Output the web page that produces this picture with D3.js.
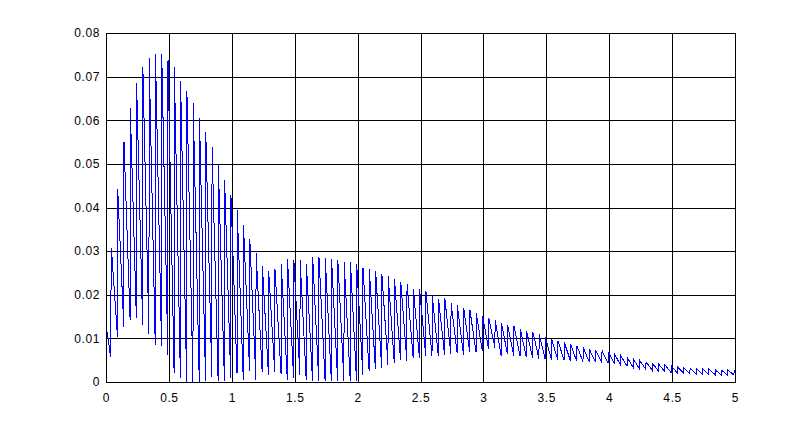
<!DOCTYPE html>
<html>
<head>
<meta charset="utf-8">
<script src="https://cdn.jsdelivr.net/npm/d3@7"></script>
<style>
  html, body { margin: 0; padding: 0; background: #fff; }
  svg { display: block; }
  .tick text { font-family: "Liberation Sans", Arial, sans-serif; font-size: 12px; letter-spacing: 0.6px; fill: #000; }
</style>
</head>
<body>
<svg id="chart" width="812" height="430"></svg>
<script>
// ---- data ----
const xTicks = [0, 0.5, 1, 1.5, 2, 2.5, 3, 3.5, 4, 4.5, 5];
const xTickLabels = ["0", "0.5", "1", "1.5", "2", "2.5", "3", "3.5", "4", "4.5", "5"];
const yTicks = [0, 0.01, 0.02, 0.03, 0.04, 0.05, 0.06, 0.07, 0.08];
const yTickLabels = ["0", "0.01", "0.02", "0.03", "0.04", "0.05", "0.06", "0.07", "0.08"];

// initial transient before first oscillation peak
const startTimes = [0, 0.01, 0.025, 0.035];
const startValues = [0.0130, 0.0112, 0.0083, 0.0058];

// oscillation period (20 Hz) and time offset of each cycle's peak
const cyclePeriod = 0.05;
const peakOffset = -0.007;
const troughOffset = -0.0085;

// peak value of each cycle (100 cycles)
const peakValues = [
  0.0306,0.0443,0.0551,0.0628,0.0686,0.0722,0.0743,0.0752,0.0751,0.0737,
  0.0722,0.0690,0.0668,0.0640,0.0605,0.0572,0.0538,0.0498,0.0462,0.0428,
  0.0394,0.0359,0.0328,0.0296,0.0266,0.0255,0.0260,0.0270,0.0281,0.0280,
  0.0280,0.0270,0.0286,0.0286,0.0284,0.0281,0.0279,0.0276,0.0275,0.0270,
  0.0261,0.0259,0.0255,0.0248,0.0243,0.0236,0.0230,0.0224,0.0214,0.0212,
  0.0208,0.0199,0.0191,0.0192,0.0181,0.0176,0.0170,0.0165,0.0158,0.0152,
  0.0146,0.0143,0.0135,0.0131,0.0128,0.0122,0.0117,0.0115,0.0109,0.0102,
  0.0098,0.0094,0.0091,0.0087,0.0083,0.0079,0.0075,0.0073,0.0072,0.0069,
  0.0064,0.0060,0.0056,0.0052,0.0049,0.0046,0.0043,0.0041,0.0039,0.0037,
  0.0035,0.0033,0.0032,0.0031,0.0030,0.0029,0.0028,0.0027,0.0027,0.0026
];

// trough value at the end of each cycle (just before the next rise)
const troughValues = [
  0.0103,0.0126,0.0143,0.0147,0.0131,0.0109,0.0084,0.0082,0.0063,0.0021,
  0.0010,0.0000,0.0000,0.0000,0.0002,0.0012,0.0002,0.0002,0.0010,0.0020,
  0.0005,0.0025,0.0005,0.0022,0.0015,0.0022,0.0018,0.0005,0.0010,0.0015,
  0.0005,0.0003,0.0002,0.0003,0.0002,0.0003,0.0002,0.0003,0.0003,0.0017,
  0.0025,0.0029,0.0033,0.0040,0.0044,0.0050,0.0049,0.0056,0.0056,0.0060,
  0.0060,0.0060,0.0062,0.0064,0.0066,0.0062,0.0068,0.0068,0.0071,0.0075,
  0.0079,0.0060,0.0064,0.0060,0.0060,0.0057,0.0055,0.0053,0.0052,0.0051,
  0.0050,0.0050,0.0049,0.0048,0.0047,0.0046,0.0045,0.0044,0.0043,0.0042,
  0.0038,0.0036,0.0033,0.0030,0.0029,0.0027,0.0025,0.0024,0.0022,0.0021,
  0.0020,0.0019,0.0018,0.0018,0.0017,0.0017,0.0016,0.0016,0.0016,0.0022
];

// ---- build series ----
const series = [];
startTimes.forEach((t, i) => series.push([t, startValues[i]]));
peakValues.forEach((p, i) => {
  const k = i + 1;
  series.push([cyclePeriod * k + peakOffset, p]);
  const tt = Math.min(5, cyclePeriod * (k + 1) + troughOffset);
  series.push([tt, troughValues[i]]);
});

// ---- drawing ----
const svg = d3.select("#chart");
const W = 812, H = 430;
const m = { left: 106, right: 77, top: 33, bottom: 48 };
const x = d3.scaleLinear().domain([0, 5]).range([m.left, W - m.right]);
const y = d3.scaleLinear().domain([0, 0.08]).range([H - m.bottom, m.top]);

svg.append("rect").attr("width", W).attr("height", H).attr("fill", "#fff");

// grid
const grid = svg.append("g").attr("shape-rendering", "crispEdges");
grid.selectAll("line.vx").data(xTicks).join("line")
  .attr("x1", d => Math.round(x(d)) + 0.5).attr("x2", d => Math.round(x(d)) + 0.5)
  .attr("y1", y(0)).attr("y2", y(0.08))
  .attr("stroke", "#000").attr("stroke-width", 1);
grid.selectAll("line.hy").data(yTicks).join("line")
  .attr("y1", d => Math.round(y(d)) + 0.5).attr("y2", d => Math.round(y(d)) + 0.5)
  .attr("x1", x(0)).attr("x2", x(5))
  .attr("stroke", "#000").attr("stroke-width", 1);

// data line
const line = d3.line().x(d => x(d[0])).y(d => y(d[1]));
svg.append("path").datum(series)
  .attr("d", line)
  .attr("fill", "none")
  .attr("stroke", "#0000ff")
  .attr("stroke-width", 1)
  .attr("shape-rendering", "crispEdges")
  .attr("stroke-linejoin", "miter");

// box
svg.append("rect")
  .attr("x", Math.round(x(0)) + 0.5).attr("y", Math.round(y(0.08)) + 0.5)
  .attr("width", Math.round(x(5)) - Math.round(x(0)))
  .attr("height", Math.round(y(0)) - Math.round(y(0.08)))
  .attr("fill", "none").attr("stroke", "#000").attr("shape-rendering", "crispEdges");

// axes (labels only; grid drawn above)
const xAxis = d3.axisBottom(x).tickValues(xTicks)
  .tickFormat((d, i) => xTickLabels[i]).tickSize(0).tickPadding(11);
svg.append("g").attr("transform", `translate(0,${y(0)})`).call(xAxis)
  .call(g => g.select(".domain").remove());

const yAxis = d3.axisLeft(y).tickValues(yTicks)
  .tickFormat((d, i) => yTickLabels[i]).tickSize(0).tickPadding(6);
svg.append("g").attr("transform", `translate(${x(0)},0)`).call(yAxis)
  .call(g => g.select(".domain").remove());
</script>
</body>
</html>
